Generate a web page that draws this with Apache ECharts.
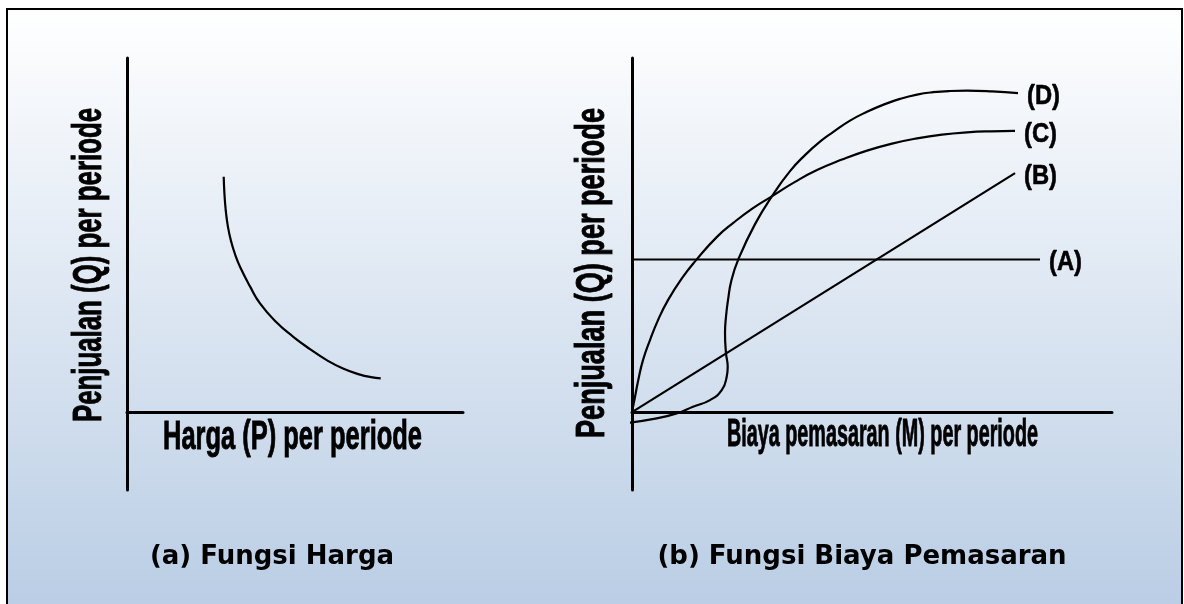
<!DOCTYPE html>
<html>
<head>
<meta charset="utf-8">
<script src="https://cdn.jsdelivr.net/npm/echarts@6/dist/echarts.min.js"></script>
<style>
  html, body { margin: 0; padding: 0; background: #ffffff; }
  #chart { width: 1184px; height: 604px; }
</style>
</head>
<body>
<div id="chart"></div>
<script>
// (a) Price function: sales fall as price rises
const priceCurve = [
  [28.78, 66.45], [28.99, 61.85], [29.38, 57.05], [30.06, 52.24], [31.04, 48.01],
  [32.24, 44.34], [33.63, 41.03], [36.61, 35.50], [39.58, 30.70], [44.55, 25.28],
  [49.49, 21.27], [54.46, 17.79], [59.43, 14.69], [64.29, 12.28], [69.35, 10.59],
  [72.62, 9.88], [75.51, 9.52]
];

// (b) Marketing-cost functions A..D
const curveA = [[0, 43.1], [85, 43.1]];
const curveB = [[0, 0], [79.8, 67.5]];
const curveC = [
  [0, 0], [0.63, 4.32], [1.31, 9.04], [2.29, 14.68], [3.75, 20.33], [5.42, 25.98],
  [7.5, 31.63], [10.42, 37.84], [13.54, 43.21], [17.65, 49.42], [21.04, 53.37],
  [25.21, 57.61], [29.38, 61.14], [33.96, 65.01], [38.54, 68.34], [43.75, 71.31],
  [48.96, 73.85], [54.17, 75.83], [59.38, 77.29], [64.58, 78.34], [69.79, 78.99],
  [74.79, 79.30], [79.79, 79.41]
];
const curveD = [
  [-0.77, -3.02], [5.15, -1.78], [9.31, -0.37], [12.71, 1.50], [16.25, 3.39],
  [18.69, 6.21], [19.73, 9.97], [19.94, 12.79], [19.58, 16.66], [19.38, 22.31],
  [19.58, 26.91], [20.0, 31.63], [20.73, 37.28], [22.15, 43.12], [25.63, 53.09],
  [29.38, 61.42], [32.92, 68.06], [36.04, 72.58], [39.17, 76.39], [41.88, 79.07],
  [45.42, 82.32], [48.96, 84.81], [52.29, 86.76], [55.83, 88.45], [59.38, 89.67],
  [62.71, 90.34], [66.25, 90.68], [69.79, 90.77], [75.0, 90.57], [80.42, 90.09]
];
const curveLabels = ['(A)', '(B)', '(C)', '(D)'];

const yTitle = 'Penjualan (Q) per periode';
const xTitleLeft = 'Harga (P) per periode';
const xTitleRight = 'Biaya pemasaran (M) per periode';
const captionLeft = '(a) Fungsi Harga';
const captionRight = '(b) Fungsi Biaya Pemasaran';

const TITLE_FONT = "bold 40px 'Liberation Sans', Arial, sans-serif";
const TITLE_FONT_SMALL = "bold 38px 'Liberation Sans', Arial, sans-serif";
const LABEL_FONT = "bold 28px 'Liberation Sans', Arial, sans-serif";
const CAPTION_FONT = "bold 26px 'DejaVu Sans', Verdana, sans-serif";

// condensed text: squeeze horizontally to a target length
const measureCtx = document.createElement('canvas').getContext('2d');
function squeeze(text, font, targetWidth) {
  measureCtx.font = font;
  return targetWidth / measureCtx.measureText(text).width;
}

function condensedText(text, font, x, y, width, opts) {
  opts = opts || {};
  const align = opts.align || 'center';
  return {
    type: 'text', x: x, y: y, z: 5,
    rotation: opts.vertical ? Math.PI / 2 : 0,
    scaleX: squeeze(text, font, width),
    style: {
      text: text, font: font, fill: '#000',
      stroke: '#000', lineWidth: opts.stroke || 0.9,
      align: align, verticalAlign: 'middle',
      textAlign: align, textVerticalAlign: 'middle'
    }
  };
}

function captionText(text, x, y) {
  return {
    type: 'text', x: x, y: y, z: 5,
    style: {
      text: text, font: CAPTION_FONT, fill: '#000',
      align: 'center', verticalAlign: 'middle',
      textAlign: 'center', textVerticalAlign: 'middle'
    }
  };
}

const axisCommon = {
  axisTick: { show: false },
  axisLabel: { show: false },
  splitLine: { show: false },
  axisLine: { lineStyle: { color: '#000', width: 3 } }
};

function xAxisFor(gridIndex) {
  return Object.assign({ type: 'value', gridIndex: gridIndex, min: 0, max: 100 }, axisCommon,
    { axisLine: { onZero: true, lineStyle: { color: '#000', width: 3 } } });
}
function yAxisFor(gridIndex) {
  return Object.assign({ type: 'value', gridIndex: gridIndex, min: -22, max: 100 }, axisCommon);
}

function curveSeries(name, data, gridIndex) {
  return {
    type: 'line', name: name, xAxisIndex: gridIndex, yAxisIndex: gridIndex,
    data: data, smooth: 0.5, symbol: 'none', clip: false,
    lineStyle: { color: '#000', width: 2.2 },
    silent: true
  };
}

const chart = echarts.init(document.getElementById('chart'), null, { renderer: 'canvas' });

chart.setOption({
  animation: false,
  backgroundColor: '#ffffff',
  grid: [
    { left: 127, top: 58, width: 336, height: 432 },
    { left: 632, top: 58, width: 480, height: 432 }
  ],
  xAxis: [xAxisFor(0), xAxisFor(1)],
  yAxis: [yAxisFor(0), yAxisFor(1)],
  series: [
    curveSeries('Harga', priceCurve, 0),
    curveSeries('A', curveA, 1),
    curveSeries('B', curveB, 1),
    curveSeries('C', curveC, 1),
    curveSeries('D', curveD, 1)
  ]
});

// curve labels sit just right of each curve's last point
const curveEnds = [curveA, curveB, curveC, curveD].map(function (d) {
  return chart.convertToPixel({ gridIndex: 1 }, d[d.length - 1]);
});
const curveLabelEls = curveEnds.map(function (p, i) {
  return condensedText(curveLabels[i], LABEL_FONT, p[0] + 9, p[1] + 3, 33,
    { align: 'left', stroke: 0.6 });
});

chart.setOption({
  graphic: [
    {
      type: 'rect', z: -10,
      shape: { x: 7, y: 9, width: 1175, height: 610 },
      style: {
        fill: new echarts.graphic.LinearGradient(0, 0, 0, 1, [
          { offset: 0, color: '#ffffff' },
          { offset: 1, color: '#b8cce4' }
        ]),
        stroke: '#000', lineWidth: 2
      }
    },
    condensedText(yTitle, TITLE_FONT, 90, 265, 314, { vertical: true }),
    condensedText(yTitle, TITLE_FONT, 593, 273, 330, { vertical: true }),
    condensedText(xTitleLeft, TITLE_FONT, 292.5, 438, 259),
    condensedText(xTitleRight, TITLE_FONT_SMALL, 882.5, 436, 311),
    captionText(captionLeft, 272, 557),
    captionText(captionRight, 862, 557)
  ].concat(curveLabelEls)
});
</script>
</body>
</html>
